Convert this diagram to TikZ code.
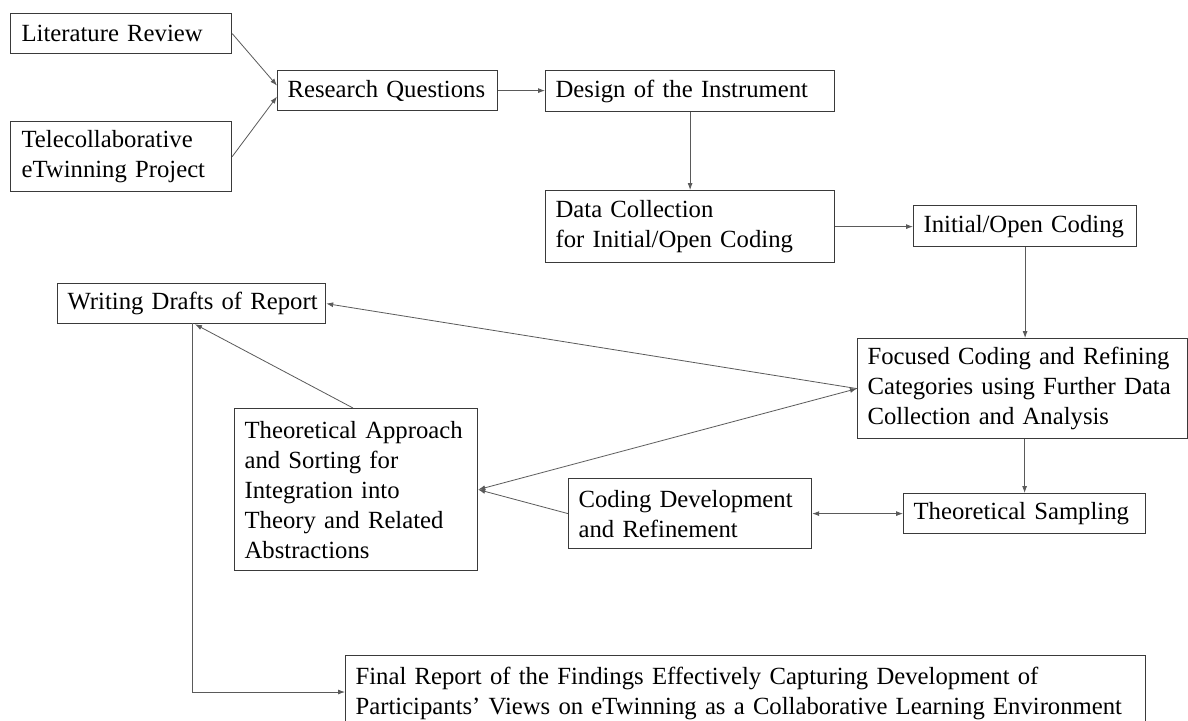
\documentclass[tikz,border=0pt]{standalone}
\usepackage{fontspec}
\setmainfont{Liberation Serif}
\usetikzlibrary{arrows.meta,calc}
\definecolor{boxline}{HTML}{3A3A3A}
\definecolor{conline}{HTML}{5A5A5A}
\begin{document}
\begin{tikzpicture}[x=1pt,y=-1pt,
  box/.style={draw=boxline, line width=1.2pt, inner xsep=10pt, inner ysep=0pt,
    anchor=north west, align=left, font=\fontsize{24.7}{30}\selectfont,
    execute at begin node={\hyphenpenalty=10000\exhyphenpenalty=10000\relax}},
  con/.style={draw=conline, line width=0.8pt, -{Latex[length=7pt,width=5pt]}},
  bicon/.style={draw=conline, line width=0.8pt, {Latex[length=7pt,width=5pt]}-{Latex[length=7pt,width=5pt]}}]
\useasboundingbox (0,0) rectangle (1188,720);
\fill[white] (0,0) rectangle (1188,720);

\node[box, inner xsep=11pt, text width=199pt, minimum height=40pt] (lit) at (10,13) {\mbox{Literature Review}};
\node[box, inner xsep=11pt, text width=199pt, minimum height=70pt] (tele) at (10,121) {\mbox{Telecollaborative}\\\mbox{eTwinning Project}};
\node[box, text width=200pt, minimum height=40pt] (rq) at (277,70) {\mbox{Research Questions}};
\node[box, text width=269pt, minimum height=41pt] (design) at (545,70) {\mbox{Design of the Instrument}};
\node[box, text width=269pt, minimum height=72pt] (data) at (545,190) {\mbox{Data Collection}\\\mbox{for Initial/Open Coding}};
\node[box, text width=203pt, minimum height=41pt] (init) at (913,205) {\mbox{Initial/Open Coding}};
\node[box, text width=248pt, minimum height=40pt] (wd) at (57,283) {\mbox{Writing Drafts of Report}};
\node[box, text width=310pt, minimum height=100pt] (focus) at (857,338) {\mbox{Focused Coding and Refining}\\\mbox{Categories using Further Data}\\\mbox{Collection and Analysis}};
\node[box, text width=223pt, minimum height=162pt] (ta) at (234,408) {\mbox{Theoretical Approach}\\\mbox{and Sorting for}\\\mbox{Integration into}\\\mbox{Theory and Related}\\\mbox{Abstractions}};
\node[box, text width=223pt, minimum height=70pt] (cd) at (568,478) {\mbox{Coding Development}\\\mbox{and Refinement}};
\node[box, text width=222pt, minimum height=40pt] (ts) at (903,493) {\mbox{Theoretical Sampling}};
\node[box, text width=780pt, minimum height=76pt] (final) at (345,655) {\mbox{Final Report of the Findings Effectively Capturing Development of}\\\mbox{Participants’ Views on eTwinning as a Collaborative Learning Environment}};

\coordinate (wdbot) at (192,323);
\coordinate (corner) at (192,692);
\coordinate (finin) at (345,692);

\draw[con] (lit.east) -- ([yshift=5pt]rq.west);
\draw[con] (tele.east) -- ([yshift=-6pt]rq.west);
\draw[con] (rq.east) -- (design.west |- rq.east);
\draw[con] (design.south) -- (design.south |- data.north);
\draw[con] (data.east) -- (init.west |- data.east);
\draw[con] (init.south) -- (init.south |- focus.north);
\draw[con] (focus.west) -- (wd.east);
\draw[bicon] (ta.east) -- (focus.west);
\draw[con] (cd.west) -- (ta.east);
\draw[bicon] (cd.east) -- (ts.west |- cd.east);
\draw[con] (ts.north |- focus.south) -- (ts.north);
\draw[con] (ta.north -| 353,0) -- (wd.south -| 195,0);
\draw[con] (wdbot) -- (corner) -- (finin);
\end{tikzpicture}
\end{document}
